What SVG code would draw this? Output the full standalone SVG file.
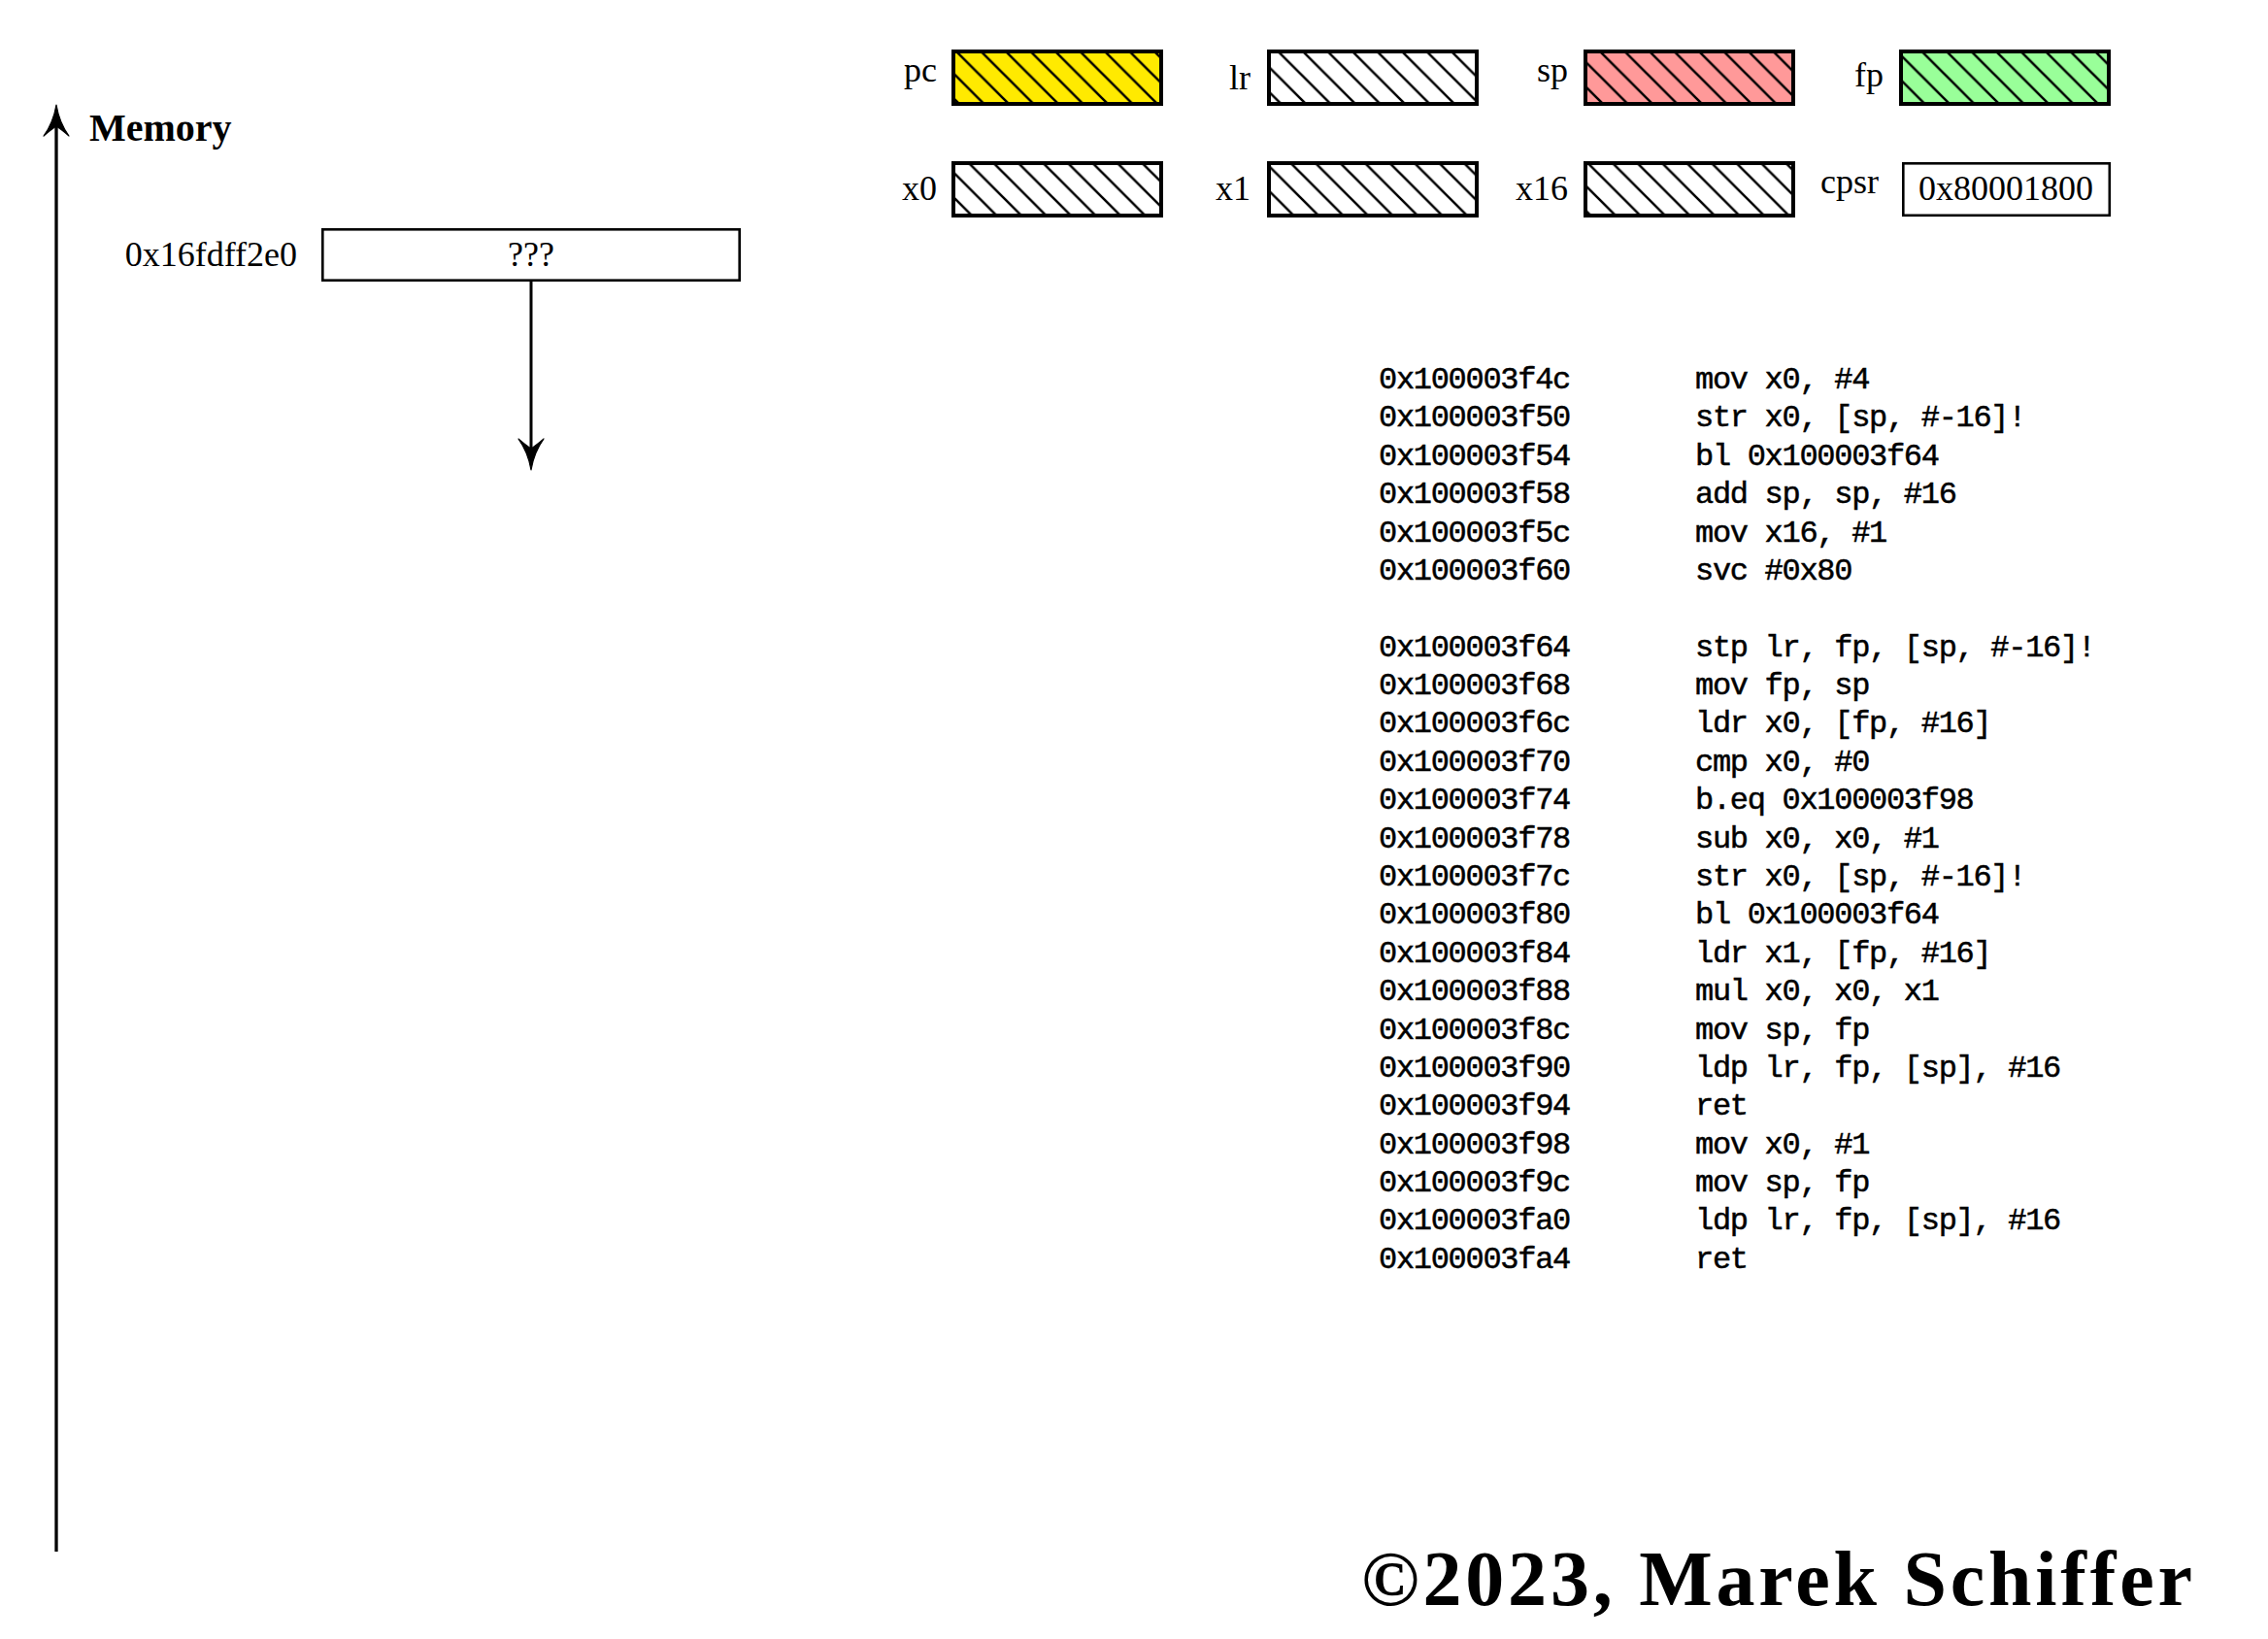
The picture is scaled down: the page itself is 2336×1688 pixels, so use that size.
<svg xmlns="http://www.w3.org/2000/svg" width="2336" height="1688" viewBox="0 0 2336 1688">
<style>
.lbl{font-family:"Liberation Serif","Times New Roman",serif;font-size:36px;fill:#000}
.bold{font-family:"Liberation Serif","Times New Roman",serif;font-weight:bold;fill:#000}
.code{font-family:"Liberation Mono","Courier New",monospace;font-size:32px;letter-spacing:-1.3px;fill:#000;stroke:#000;stroke-width:0.5px}
.reg{stroke:#000;stroke-width:4}
.box{fill:#fff;stroke:#000;stroke-width:2.6}
.conn{stroke:#000;fill:none}
.head{fill:#000;stroke:#000;stroke-width:1.2;stroke-linejoin:round}
</style>
<defs>
<pattern id="hatch" patternUnits="userSpaceOnUse" x="983" y="51" width="25.5" height="25.5">
<path d="M0,0 L25.5,25.5 M-3,22.5 L3,28.5 M22.5,-3 L28.5,3" stroke="#000" stroke-width="2.5" fill="none"/>
</pattern>
</defs>
<rect width="2336" height="1688" fill="#fff"/>

<g id="connectors">
<g id="memory-axis">
<line class="conn" x1="58" y1="1598" x2="58" y2="128" stroke-width="3.3"/>
<path class="head" d="M58,108 Q61,126 71,140 Q63,133 58,130 Q53,133 45,140 Q55,126 58,108 Z"/>
</g>
<g id="stack-arrow">
<line class="conn" x1="547" y1="290" x2="547" y2="463" stroke-width="3"/>
<path class="head" d="M547,484 Q544,466 534,452 Q542,459 547,462 Q552,459 560,452 Q550,466 547,484 Z"/>
</g>
</g>

<g id="memory-label">
<text class="bold" x="92" y="145" font-size="40">Memory</text>
</g>

<g id="mem-cell">
<rect class="box" x="332.3" y="236.3" width="429.4" height="52.4"/>
<text class="lbl" x="547" y="274" text-anchor="middle">???</text>
<text class="lbl" x="306" y="274" text-anchor="end">0x16fdff2e0</text>
</g>

<g id="reg-pc">
<rect class="reg" x="982" y="53" width="214" height="54" fill="#ffea00"/>
<rect x="982" y="53" width="214" height="54" fill="url(#hatch)" stroke="#000" stroke-width="4"/>
<text class="lbl" x="965" y="84" text-anchor="end">pc</text>
</g>
<g id="reg-lr">
<rect class="reg" x="1307" y="53" width="214" height="54" fill="#fff"/>
<rect x="1307" y="53" width="214" height="54" fill="url(#hatch)" stroke="#000" stroke-width="4"/>
<text class="lbl" x="1288" y="92" text-anchor="end">lr</text>
</g>
<g id="reg-sp">
<rect class="reg" x="1633" y="53" width="214" height="54" fill="#ff9999"/>
<rect x="1633" y="53" width="214" height="54" fill="url(#hatch)" stroke="#000" stroke-width="4"/>
<text class="lbl" x="1615" y="84" text-anchor="end">sp</text>
</g>
<g id="reg-fp">
<rect class="reg" x="1958" y="53" width="214" height="54" fill="#99ff99"/>
<rect x="1958" y="53" width="214" height="54" fill="url(#hatch)" stroke="#000" stroke-width="4"/>
<text class="lbl" x="1940" y="89" text-anchor="end">fp</text>
</g>
<g id="reg-x0">
<rect class="reg" x="982" y="168" width="214" height="54" fill="#fff"/>
<rect x="982" y="168" width="214" height="54" fill="url(#hatch)" stroke="#000" stroke-width="4"/>
<text class="lbl" x="965" y="206" text-anchor="end">x0</text>
</g>
<g id="reg-x1">
<rect class="reg" x="1307" y="168" width="214" height="54" fill="#fff"/>
<rect x="1307" y="168" width="214" height="54" fill="url(#hatch)" stroke="#000" stroke-width="4"/>
<text class="lbl" x="1288" y="206" text-anchor="end">x1</text>
</g>
<g id="reg-x16">
<rect class="reg" x="1633" y="168" width="214" height="54" fill="#fff"/>
<rect x="1633" y="168" width="214" height="54" fill="url(#hatch)" stroke="#000" stroke-width="4"/>
<text class="lbl" x="1615" y="206" text-anchor="end">x16</text>
</g>
<g id="reg-cpsr">
<rect class="box" x="1960.3" y="168.3" width="212.5" height="53.5"/>
<text class="lbl" x="2066" y="206" text-anchor="middle">0x80001800</text>
<text class="lbl" x="1935" y="199" text-anchor="end">cpsr</text>
</g>

<g id="code">
<text class="code" x="1420" y="400">0x100003f4c</text><text class="code" x="1746" y="400">mov x0, #4</text>
<text class="code" x="1420" y="439.4">0x100003f50</text><text class="code" x="1746" y="439.4">str x0, [sp, #-16]!</text>
<text class="code" x="1420" y="478.8">0x100003f54</text><text class="code" x="1746" y="478.8">bl 0x100003f64</text>
<text class="code" x="1420" y="518.1">0x100003f58</text><text class="code" x="1746" y="518.1">add sp, sp, #16</text>
<text class="code" x="1420" y="557.5">0x100003f5c</text><text class="code" x="1746" y="557.5">mov x16, #1</text>
<text class="code" x="1420" y="596.9">0x100003f60</text><text class="code" x="1746" y="596.9">svc #0x80</text>
<text class="code" x="1420" y="675.7">0x100003f64</text><text class="code" x="1746" y="675.7">stp lr, fp, [sp, #-16]!</text>
<text class="code" x="1420" y="715">0x100003f68</text><text class="code" x="1746" y="715">mov fp, sp</text>
<text class="code" x="1420" y="754.4">0x100003f6c</text><text class="code" x="1746" y="754.4">ldr x0, [fp, #16]</text>
<text class="code" x="1420" y="793.8">0x100003f70</text><text class="code" x="1746" y="793.8">cmp x0, #0</text>
<text class="code" x="1420" y="833.2">0x100003f74</text><text class="code" x="1746" y="833.2">b.eq 0x100003f98</text>
<text class="code" x="1420" y="872.6">0x100003f78</text><text class="code" x="1746" y="872.6">sub x0, x0, #1</text>
<text class="code" x="1420" y="912">0x100003f7c</text><text class="code" x="1746" y="912">str x0, [sp, #-16]!</text>
<text class="code" x="1420" y="951.3">0x100003f80</text><text class="code" x="1746" y="951.3">bl 0x100003f64</text>
<text class="code" x="1420" y="990.7">0x100003f84</text><text class="code" x="1746" y="990.7">ldr x1, [fp, #16]</text>
<text class="code" x="1420" y="1030.1">0x100003f88</text><text class="code" x="1746" y="1030.1">mul x0, x0, x1</text>
<text class="code" x="1420" y="1069.5">0x100003f8c</text><text class="code" x="1746" y="1069.5">mov sp, fp</text>
<text class="code" x="1420" y="1108.9">0x100003f90</text><text class="code" x="1746" y="1108.9">ldp lr, fp, [sp], #16</text>
<text class="code" x="1420" y="1148.2">0x100003f94</text><text class="code" x="1746" y="1148.2">ret</text>
<text class="code" x="1420" y="1187.6">0x100003f98</text><text class="code" x="1746" y="1187.6">mov x0, #1</text>
<text class="code" x="1420" y="1227">0x100003f9c</text><text class="code" x="1746" y="1227">mov sp, fp</text>
<text class="code" x="1420" y="1266.4">0x100003fa0</text><text class="code" x="1746" y="1266.4">ldp lr, fp, [sp], #16</text>
<text class="code" x="1420" y="1305.8">0x100003fa4</text><text class="code" x="1746" y="1305.8">ret</text>
</g>

<g id="copyright">
<text class="bold" x="1402" y="1653" font-size="80" textLength="856" lengthAdjust="spacing">©2023, Marek Schiffer</text>
</g>
</svg>
